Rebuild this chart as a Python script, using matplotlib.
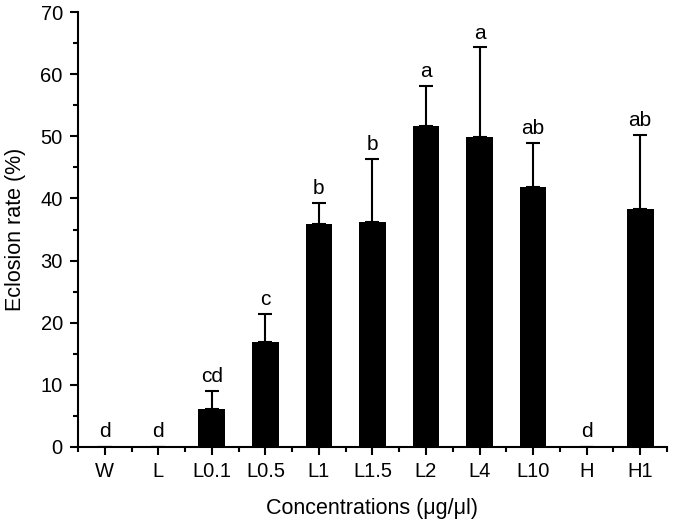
import matplotlib.pyplot as plt
from matplotlib.ticker import MultipleLocator

plt.rcParams['font.family'] = ['Liberation Sans', 'DejaVu Sans']

categories = ['W', 'L', 'L0.1', 'L0.5', 'L1', 'L1.5', 'L2', 'L4', 'L10', 'H', 'H1']
rates = [0, 0, 6.1, 16.9, 35.9, 36.2, 51.7, 49.9, 41.8, 0, 38.3]
errors = [0, 0, 2.9, 4.5, 3.4, 10.1, 6.4, 14.4, 7.2, 0, 11.9]
letters = ['d', 'd', 'cd', 'c', 'b', 'b', 'a', 'a', 'ab', 'd', 'ab']

fig = plt.figure(figsize=(6.75, 5.25), dpi=100)
ax = fig.add_axes([0.1156, 0.1486, 0.8724, 0.8284])

x = list(range(len(categories)))
ax.bar(x, rates, width=0.5, color='black')
ax.errorbar(x, rates, yerr=[[0] * len(errors), errors], fmt='none',
            ecolor='black', elinewidth=1.5, capsize=5, capthick=1.5)

for xi, r, e, lab in zip(x, rates, errors, letters):
    if r == 0:
        ax.text(xi, 1.0, lab, ha='center', va='bottom', fontsize=15)
    else:
        ax.annotate(lab, (xi, r + e), xytext=(0, 3.5), textcoords='offset points',
                    ha='center', va='bottom', fontsize=15)

ax.set_xlim(-0.5, 10.5)
ax.set_ylim(0, 70)
ax.set_xticks(x)
ax.set_xticklabels(categories)
ax.set_xticks([i - 0.5 for i in range(len(categories) + 1)], minor=True)
ax.yaxis.set_major_locator(MultipleLocator(10))
ax.yaxis.set_minor_locator(MultipleLocator(5))

ax.spines['top'].set_visible(False)
ax.spines['right'].set_visible(False)
for s in ['left', 'bottom']:
    ax.spines[s].set_linewidth(1.5)
ax.tick_params(which='major', length=6, width=1.5, labelsize=14.5, direction='out', pad=5)
ax.tick_params(which='minor', length=3.5, width=1.5, direction='out')

ax.set_xlabel('Concentrations (μg/μl)', fontsize=15.5, labelpad=12)
ax.set_ylabel('Eclosion rate (%)', fontsize=15.5, labelpad=10)

fig.savefig('out.png', dpi=100)
